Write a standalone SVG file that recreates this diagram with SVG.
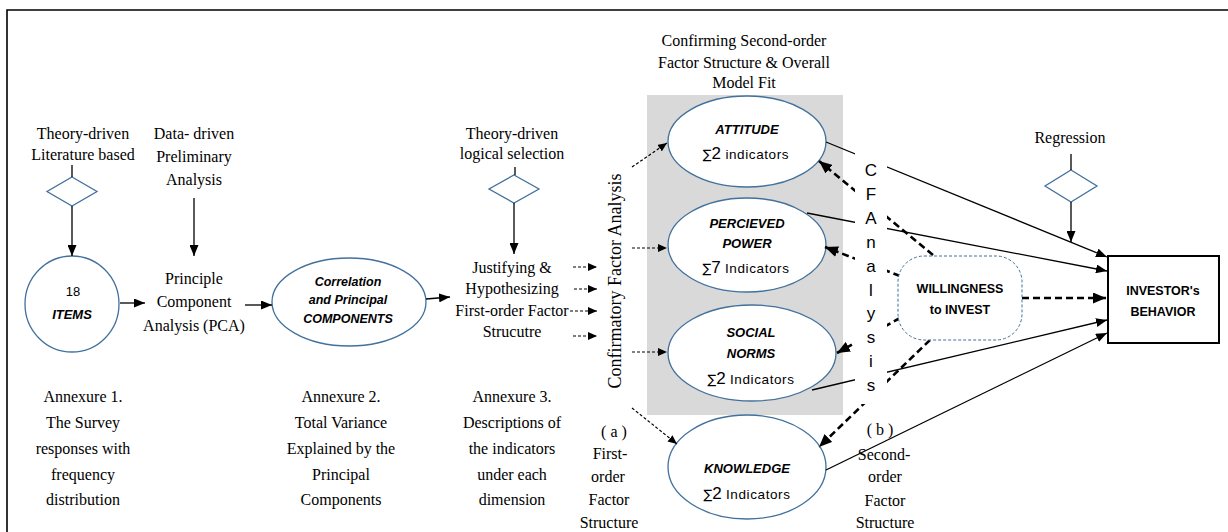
<svg xmlns="http://www.w3.org/2000/svg" width="1228" height="532" viewBox="0 0 1228 532">
<style>
.t{font-family:"Liberation Serif","Times New Roman",serif;font-size:16px;fill:#000;text-anchor:middle}
.s{font-family:"Liberation Sans",Arial,sans-serif;fill:#000;text-anchor:middle}
.bi{font-weight:bold;font-style:italic;font-size:13px}
.b{font-weight:bold;font-size:12.5px}
.ind{font-size:13.5px;letter-spacing:0.6px}
.sig{font-family:"DejaVu Sans","Liberation Sans",sans-serif;font-size:13px}
.big{font-size:17px}
.ell{fill:#fff;stroke:#41719c;stroke-width:1.3}
.dia{fill:#fff;stroke:#41719c;stroke-width:1.3}
.ln{stroke:#000;stroke-width:1.3;fill:none}
.td{stroke:#000;stroke-width:1.2;fill:none;stroke-dasharray:3 2}
.kd{stroke:#000;stroke-width:2.6;fill:none;stroke-dasharray:7 4}
.cfa{font-family:"Liberation Sans",Arial,sans-serif;font-size:17px;fill:#000;text-anchor:middle}
</style>
<defs>
<marker id="a" markerUnits="userSpaceOnUse" markerWidth="11" markerHeight="9" refX="11" refY="4.5" orient="auto"><path d="M0,0 L11,4.5 L0,9 z" fill="#000"/></marker>
<marker id="as" markerUnits="userSpaceOnUse" markerWidth="9" markerHeight="8" refX="9" refY="4" orient="auto"><path d="M0,0 L9,4 L0,8 z" fill="#000"/></marker>
<marker id="ab" markerUnits="userSpaceOnUse" markerWidth="13" markerHeight="11" refX="13" refY="5.5" orient="auto"><path d="M0,0 L13,5.5 L0,11 z" fill="#000"/></marker>
</defs>
<rect width="1228" height="532" fill="#fff"/>
<path d="M7,532 L7,10 L1228,10" fill="none" stroke="#000" stroke-width="1.6"/>

<g id="labels">
<text class="t" x="83" y="139">Theory-driven</text>
<text class="t" x="83" y="160">Literature based</text>
<text class="t" x="194" y="139">Data- driven</text>
<text class="t" x="194" y="162">Preliminary</text>
<text class="t" x="194" y="185">Analysis</text>
<text class="t" x="512" y="139">Theory-driven</text>
<text class="t" x="512" y="159">logical selection</text>
<text class="t" x="744" y="46">Confirming Second-order</text>
<text class="t" x="744" y="68">Factor Structure &amp; Overall</text>
<text class="t" x="744" y="88">Model Fit</text>
<text class="t" x="1070" y="143">Regression</text>
<text class="t" x="83" y="402">Annexure 1.</text>
<text class="t" x="83" y="428">The Survey</text>
<text class="t" x="83" y="454">responses with</text>
<text class="t" x="83" y="480">frequency</text>
<text class="t" x="83" y="505">distribution</text>
<text class="t" x="341" y="402">Annexure 2.</text>
<text class="t" x="341" y="428">Total Variance</text>
<text class="t" x="341" y="454">Explained by the</text>
<text class="t" x="341" y="480">Principal</text>
<text class="t" x="341" y="505">Components</text>
<text class="t" x="512" y="402">Annexure 3.</text>
<text class="t" x="512" y="428">Descriptions of</text>
<text class="t" x="512" y="454">the indicators</text>
<text class="t" x="512" y="480">under each</text>
<text class="t" x="512" y="505">dimension</text>
<text class="t" x="614" y="437">( a )</text>
<text class="t" x="610" y="459">First-</text>
<text class="t" x="608" y="482">order</text>
<text class="t" x="609" y="505">Factor</text>
<text class="t" x="609" y="528">Structure</text>
<text class="t" x="880" y="435">( b )</text>
<text class="t" x="884" y="460">Second-</text>
<text class="t" x="885" y="482">order</text>
<text class="t" x="885" y="506">Factor</text>
<text class="t" x="885" y="528">Structure</text>
<text class="t" transform="translate(621,281) rotate(-90)" style="font-size:18px">Confirmatory Factor Analysis</text>
</g>

<rect id="cfa-panel" x="647" y="95" width="196" height="320" fill="#d9d9d9"/>

<g id="diamond-literature"><path class="dia" d="M72,177 L97,191.5 L72,206 L47,191.5 z"/></g>
<g id="diamond-logical"><path class="dia" d="M514,175 L539,189 L514,203 L489,189 z"/></g>
<g id="diamond-regression"><path class="dia" d="M1071,170 L1097,186 L1071,202 L1045,186 z"/></g>

<g id="items">
<ellipse class="ell" cx="72" cy="304" rx="47" ry="48"/>
<text class="s" x="73" y="296" style="font-size:13px">18</text>
<text class="s bi" x="72" y="319">ITEMS</text>
</g>
<g id="pca">
<text class="t" x="194" y="284">Principle</text>
<text class="t" x="194" y="307">Component</text>
<text class="t" x="194" y="331">Analysis (PCA)</text>
</g>
<g id="correlation">
<ellipse class="ell" cx="349" cy="302" rx="77" ry="44"/>
<text class="s bi" x="348" y="286" style="font-size:12.5px">Correlation</text>
<text class="s bi" x="348" y="304" style="font-size:12.5px">and Principal</text>
<text class="s bi" x="348" y="323" style="font-size:12.5px">COMPONENTS</text>
</g>
<g id="justifying">
<text class="t" x="512" y="273">Justifying &amp;</text>
<text class="t" x="512" y="294">Hypothesizing</text>
<text class="t" x="512" y="316">First-order Factor</text>
<text class="t" x="512" y="337">Strucutre</text>
</g>
<g id="attitude">
<ellipse class="ell" cx="747" cy="141.5" rx="79" ry="45.5"/>
<text class="s bi" x="747" y="134">ATTITUDE</text>
<text class="s" x="746" y="159"><tspan class="sig">∑</tspan><tspan class="big">2</tspan><tspan class="ind"> indicators</tspan></text>
</g>
<g id="perceived-power">
<ellipse class="ell" cx="747" cy="245" rx="79" ry="47"/>
<text class="s bi" x="747" y="228">PERCIEVED</text>
<text class="s bi" x="747" y="248">POWER</text>
<text class="s" x="746" y="273"><tspan class="sig">∑</tspan><tspan class="big">7</tspan><tspan class="ind"> Indicators</tspan></text>
</g>
<g id="social-norms">
<ellipse class="ell" cx="752" cy="353" rx="84" ry="48"/>
<text class="s bi" x="751" y="337">SOCIAL</text>
<text class="s bi" x="751" y="358">NORMS</text>
<text class="s" x="751" y="384"><tspan class="sig">∑</tspan><tspan class="big">2</tspan><tspan class="ind"> Indicators</tspan></text>
</g>
<g id="knowledge">
<ellipse class="ell" cx="747" cy="467" rx="79" ry="52"/>
<text class="s bi" x="747" y="473">KNOWLEDGE</text>
<text class="s" x="747" y="499"><tspan class="sig">∑</tspan><tspan class="big">2</tspan><tspan class="ind"> Indicators</tspan></text>
</g>

<g id="connectors">
<path class="ln" d="M72,165 L72,177"/>
<path class="ln" d="M72,206 L72,256" marker-end="url(#a)"/>
<path class="ln" d="M194,198 L194,256" marker-end="url(#a)"/>
<path class="ln" d="M120,303 L145,303" marker-end="url(#a)"/>
<path class="ln" d="M245,305 L272,305" marker-end="url(#a)"/>
<path class="ln" d="M426,299 L450,297" marker-end="url(#a)"/>
<path class="ln" d="M515,167 L515,175"/>
<path class="ln" d="M514,203 L514,254" marker-end="url(#a)"/>
<path class="ln" d="M1071,154 L1071,170"/>
<path class="ln" d="M1071,202 L1071,242" marker-end="url(#a)"/>
<path class="td" d="M573,267 L597,267" marker-end="url(#as)"/>
<path class="td" d="M574,289 L597,289" marker-end="url(#as)"/>
<path class="td" d="M570,311 L597,311" marker-end="url(#as)"/>
<path class="td" d="M573,336 L597,336" marker-end="url(#as)"/>
<path class="td" d="M632,167 L667,143" marker-end="url(#as)"/>
<path class="td" d="M632,248 L667,248" marker-end="url(#as)"/>
<path class="td" d="M632,352 L667,352" marker-end="url(#as)"/>
<path class="td" d="M632,408 L677,444" marker-end="url(#as)"/>
<path class="ln" d="M826,142 L1107,257" marker-end="url(#a)"/>
<path class="ln" d="M807,213 L1107,271" marker-end="url(#a)"/>
<path class="ln" d="M812,390 L1107,320" marker-end="url(#a)"/>
<path class="ln" d="M826,470 L1107,333" marker-end="url(#a)"/>
<path class="kd" d="M933,255 L819,161" marker-end="url(#ab)"/>
<path class="kd" d="M900,276 L825,247" marker-end="url(#ab)"/>
<path class="kd" d="M900,318 L837,353" marker-end="url(#ab)"/>
<path class="kd" d="M930,340 L819,447" marker-end="url(#ab)"/>
<path class="kd" d="M1022,298 L1106,298" marker-end="url(#ab)"/>
</g>

<g id="cfa-column">
<rect x="855" y="148" width="32" height="256" fill="#fff"/>
<text class="cfa" x="871" y="176">C</text>
<text class="cfa" x="871" y="200">F</text>
<text class="cfa" x="871" y="224">A</text>
<text class="cfa" x="871" y="248">n</text>
<text class="cfa" x="871" y="272">a</text>
<text class="cfa" x="871" y="296">l</text>
<text class="cfa" x="871" y="319">y</text>
<text class="cfa" x="871" y="343">s</text>
<text class="cfa" x="871" y="367">i</text>
<text class="cfa" x="871" y="391">s</text>
</g>

<g id="willingness">
<rect x="898" y="256" width="124" height="84" rx="26" ry="26" fill="#fff" stroke="#41719c" stroke-width="1" stroke-dasharray="3 2"/>
<text class="s b" x="960" y="293">WILLINGNESS</text>
<text class="s b" x="960" y="314">to INVEST</text>
</g>
<g id="investor-behavior">
<rect x="1108" y="256" width="111" height="87" fill="#fff" stroke="#000" stroke-width="2"/>
<text class="s b" x="1163" y="295">INVESTOR's</text>
<text class="s b" x="1163" y="316">BEHAVIOR</text>
</g>
</svg>
